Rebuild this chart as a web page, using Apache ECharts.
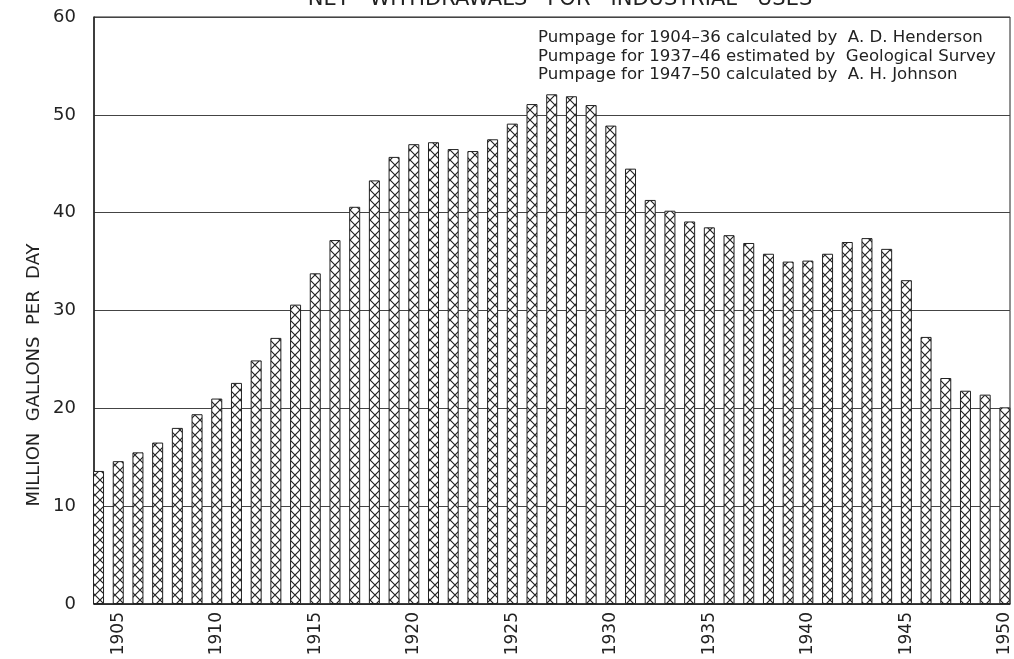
<!DOCTYPE html>
<html lang="en">
<head>
    <meta charset="UTF-8">
    <script src="https://cdn.jsdelivr.net/npm/echarts@6/dist/echarts.min.js"></script>
    <title>Net withdrawals for industrial uses</title>
    <style>
        html, body { margin: 0; padding: 0; background: #fff; }
        #main { width: 1014px; height: 659px; }
    </style>
</head>
<body>
    <div id="main"></div>
    <script type="text/javascript">
        // data
        var years = [1904, 1905, 1906, 1907, 1908, 1909, 1910, 1911, 1912, 1913,
                     1914, 1915, 1916, 1917, 1918, 1919, 1920, 1921, 1922, 1923,
                     1924, 1925, 1926, 1927, 1928, 1929, 1930, 1931, 1932, 1933,
                     1934, 1935, 1936, 1937, 1938, 1939, 1940, 1941, 1942, 1943,
                     1944, 1945, 1946, 1947, 1948, 1949, 1950];
        var pumpage = [13.6, 14.6, 15.5, 16.5, 18.0, 19.4, 21.0, 22.6, 24.9, 27.2,
                       30.6, 33.8, 37.2, 40.6, 43.3, 45.7, 47.0, 47.2, 46.5, 46.3,
                       47.5, 49.1, 51.1, 52.1, 51.9, 51.0, 48.9, 44.5, 41.3, 40.2,
                       39.1, 38.5, 37.7, 36.9, 35.8, 35.0, 35.1, 35.8, 37.0, 37.4,
                       36.3, 33.1, 27.3, 23.1, 21.8, 21.4, 20.1];
        var yearLabels = [1905, 1910, 1915, 1920, 1925, 1930, 1935, 1940, 1945, 1950];
        var notes = [
            'Pumpage for 1904\u201336 calculated by  A. D. Henderson',
            'Pumpage for 1937\u201346 estimated by  Geological Survey',
            'Pumpage for 1947\u201350 calculated by  A. H. Johnson'
        ];
        var title = 'NET   WITHDRAWALS   FOR   INDUSTRIAL   USES';
        var yName = 'MILLION  GALLONS  PER  DAY';

        var font = 'DejaVu Sans';
        var ink = '#222';

        // crosshatch fill for the bars
        var tile = document.createElement('canvas');
        tile.width = 10;
        tile.height = 10;
        var ctx = tile.getContext('2d');
        ctx.fillStyle = '#fff';
        ctx.fillRect(0, 0, 10, 10);
        ctx.strokeStyle = '#222';
        ctx.lineWidth = 1.2;
        ctx.beginPath();
        ctx.moveTo(0, 0); ctx.lineTo(10, 10);
        ctx.moveTo(10, 0); ctx.lineTo(0, 10);
        ctx.stroke();

        var data = years.map(function (y, i) { return [y, pumpage[i]]; });

        var graphics = [{
            type: 'text',
            x: 560,
            y: 10,
            style: {
                text: title, font: '21px "' + font + '"', fill: ink,
                align: 'center', verticalAlign: 'bottom'
            }
        }, {
            type: 'text',
            x: 34,
            y: 375,
            rotation: Math.PI / 2,
            style: {
                text: yName, font: '18px "' + font + '"', fill: ink,
                align: 'center', verticalAlign: 'middle'
            }
        }];
        notes.forEach(function (t, i) {
            graphics.push({
                type: 'text',
                x: 538,
                y: 38 + i * 18.5,
                style: {
                    text: t, font: '16.6px "' + font + '"', fill: ink,
                    align: 'left', verticalAlign: 'middle'
                }
            });
        });

        var myChart = echarts.init(document.getElementById('main'));
        var option = {
            animation: false,
            backgroundColor: '#fff',
            grid: {
                left: 94, right: 4, top: 17, bottom: 55,
                show: true, borderColor: ink, borderWidth: 1
            },
            xAxis: {
                type: 'value',
                min: 1903.77,
                max: 1950.26,
                axisLine: { show: true, lineStyle: { color: ink, width: 1.5 } },
                axisTick: { show: false },
                splitLine: { show: false },
                axisLabel: {
                    customValues: yearLabels,
                    formatter: function (v) { return String(v); },
                    rotate: 90,
                    margin: 8,
                    fontSize: 17,
                    fontFamily: font,
                    color: ink
                }
            },
            yAxis: {
                type: 'value',
                min: 0,
                max: 60,
                interval: 10,
                axisLine: { show: true, lineStyle: { color: ink, width: 1.5 } },
                axisTick: { show: false },
                splitLine: { show: true, lineStyle: { color: '#444', width: 1 } },
                axisLabel: { margin: 18, fontSize: 18, fontFamily: font, color: ink }
            },
            graphic: graphics,
            series: [{
                type: 'bar',
                data: data,
                barWidth: 11,
                itemStyle: {
                    color: { image: tile, repeat: 'repeat' },
                    borderColor: ink,
                    borderWidth: 1
                }
            }]
        };
        myChart.setOption(option);
    </script>
</body>
</html>
